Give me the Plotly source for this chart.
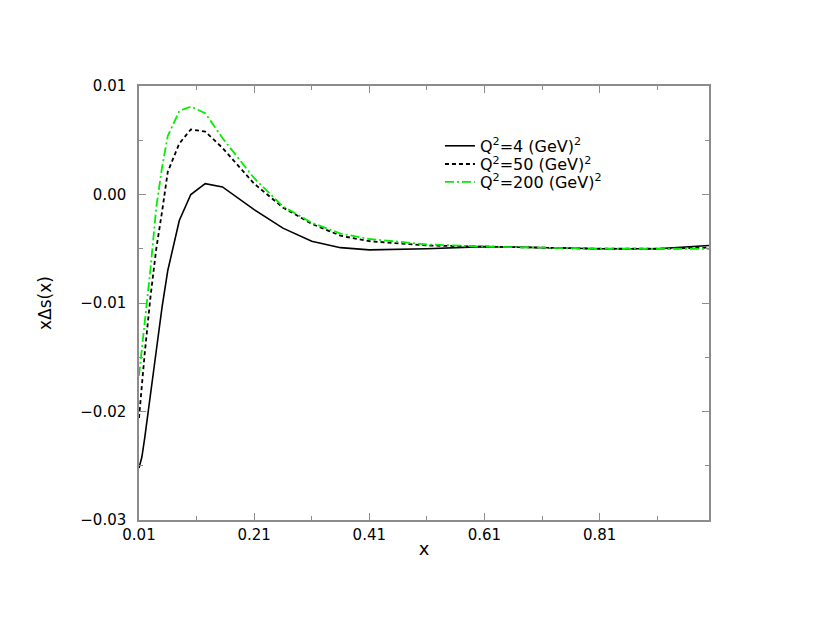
import plotly.graph_objects as go

x_vals = [0.01, 0.015, 0.02, 0.03, 0.04, 0.05, 0.06, 0.08, 0.10, 0.125, 0.155,
          0.21, 0.26, 0.31, 0.36, 0.41, 0.51, 0.61, 0.71, 0.81, 0.91, 1.00]

q2_4 = [-0.0252, -0.0242, -0.0224, -0.0186, -0.0144, -0.0104, -0.0070, -0.0024,
        0.0000, 0.0010, 0.0007, -0.0014, -0.0031, -0.0043, -0.0049, -0.0051,
        -0.0050, -0.0048, -0.0049, -0.0050, -0.0050, -0.0047]

q2_50 = [-0.0206, -0.0176, -0.0146, -0.0094, -0.0050, -0.0016, 0.0021, 0.0047,
         0.0060, 0.0058, 0.0043, 0.0010, -0.0012, -0.0027, -0.0038, -0.0043,
         -0.0047, -0.0048, -0.0049, -0.0050, -0.0050, -0.0049]

q2_200 = [-0.0167, -0.0143, -0.0118, -0.0068, -0.0012, 0.0025, 0.0054, 0.0077,
          0.0081, 0.0075, 0.0052, 0.0015, -0.0011, -0.0026, -0.0036, -0.0041,
          -0.0046, -0.0048, -0.0049, -0.0050, -0.0050, -0.0050]

series_names = ["Q<sup>2</sup>=4 (GeV)<sup>2</sup>",
                "Q<sup>2</sup>=50 (GeV)<sup>2</sup>",
                "Q<sup>2</sup>=200 (GeV)<sup>2</sup>"]

x_ticks = [0.01, 0.21, 0.41, 0.61, 0.81]
x_tick_labels = ["0.01", "0.21", "0.41", "0.61", "0.81"]
y_ticks = [-0.03, -0.02, -0.01, 0.00, 0.01]
y_tick_labels = ["\u22120.03", "\u22120.02", "\u22120.01", "0.00", "0.01"]

FONT = "DejaVu Sans, Liberation Sans, Arial, sans-serif"

fig = go.Figure()
fig.add_trace(go.Scatter(x=x_vals, y=q2_4, mode="lines", name=series_names[0], legend="legend",
                         line=dict(color="black", width=1.6, dash="solid")))
fig.add_trace(go.Scatter(x=x_vals, y=q2_50, mode="lines", name=series_names[1], legend="legend2",
                         line=dict(color="black", width=1.8, dash="4px,3px")))
fig.add_trace(go.Scatter(x=x_vals, y=q2_200, mode="lines", name=series_names[2], legend="legend3",
                         line=dict(color="#00ee00", width=1.8, dash="9px,3px,2px,3px")))

axis_common = dict(showline=True, linecolor="#8c8c8c", linewidth=1.5, mirror="ticks",
                   ticks="inside", ticklen=7, tickcolor="#8c8c8c", tickwidth=1,
                   showgrid=False, zeroline=False,
                   tickfont=dict(family=FONT, size=15, color="black"))

fig.update_xaxes(range=[0.01, 1.0], tickvals=x_ticks, ticktext=x_tick_labels,
                 minor=dict(tickvals=[0.11, 0.31, 0.51, 0.71, 0.91], ticks="inside",
                            ticklen=4, tickcolor="#8c8c8c"),
                 title=dict(text="x", font=dict(family=FONT, size=18, color="black"),
                            standoff=0),
                 **axis_common)
fig.update_yaxes(range=[-0.03, 0.01], tickvals=y_ticks, ticktext=y_tick_labels,
                 minor=dict(tickvals=[-0.025, -0.015, -0.005, 0.005], ticks="inside",
                            ticklen=4, tickcolor="#8c8c8c"),
                 ticklabelstandoff=8,
                 title=dict(text="x\u0394s(x)", font=dict(family=FONT, size=17, color="black"),
                            standoff=24),
                 **axis_common)

leg_common = dict(x=0.528, xanchor="left", yanchor="middle",
                  bgcolor="rgba(0,0,0,0)", borderwidth=0,
                  font=dict(family=FONT, size=16, color="black"), itemwidth=30)

fig.update_layout(
    width=830, height=623,
    margin=dict(l=131, r=129, t=78, b=111),
    paper_bgcolor="white", plot_bgcolor="white",
    showlegend=True,
    legend=dict(y=0.862, **leg_common),
    legend2=dict(y=0.820, **leg_common),
    legend3=dict(y=0.779, **leg_common),
)

fig.write_html("out.html")
